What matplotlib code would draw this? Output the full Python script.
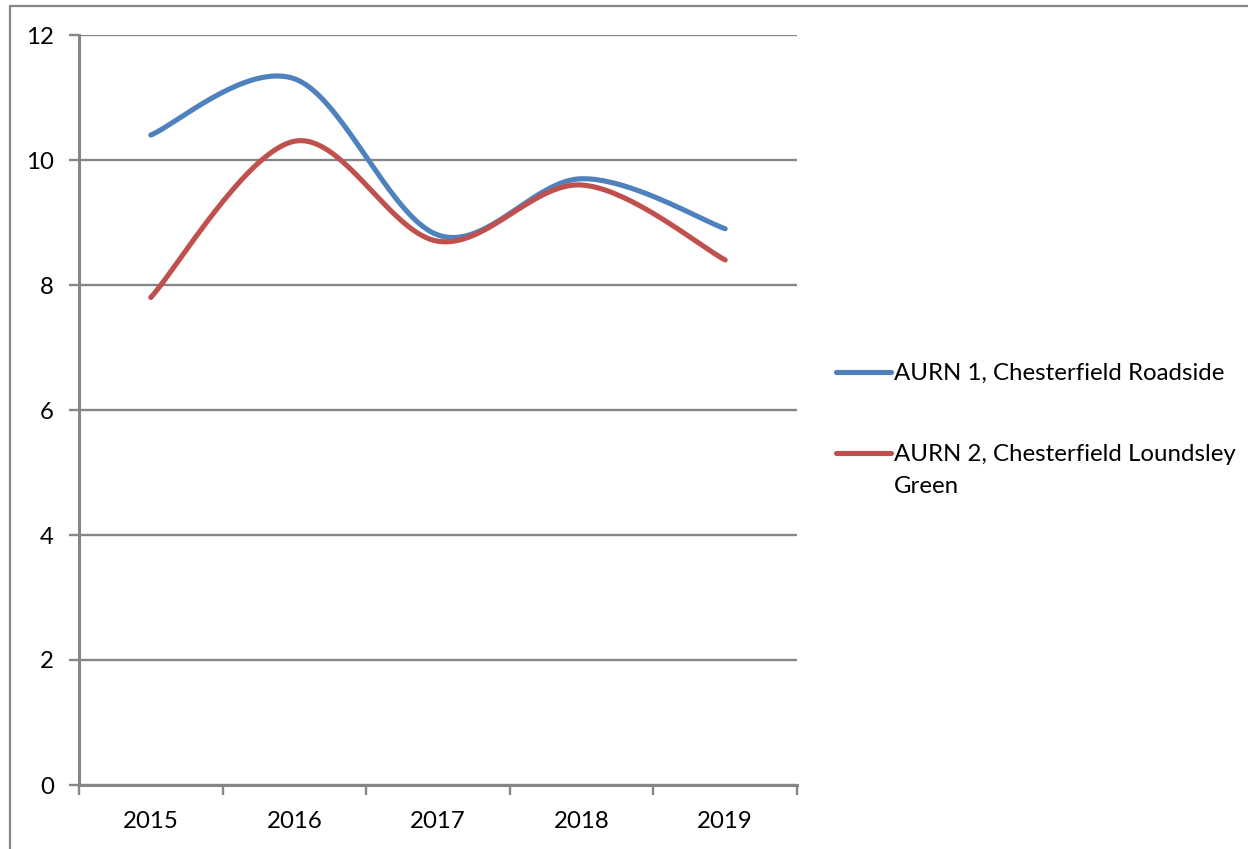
import numpy as np
import matplotlib
matplotlib.use("Agg")
import matplotlib.pyplot as plt
from matplotlib.lines import Line2D
from matplotlib.patches import Rectangle

years = ["2015", "2016", "2017", "2018", "2019"]
roadside = [10.4, 11.3, 8.8, 9.7, 8.9]
loundsley = [7.8, 10.3, 8.7, 9.6, 8.4]
series_names = ["AURN 1, Chesterfield Roadside", "AURN 2, Chesterfield Loundsley\nGreen"]
series_colors = ["#4F81BD", "#C0504D"]
y_ticks = [0, 2, 4, 6, 8, 10, 12]

W, H = 1248, 849
plt.rcParams["font.family"] = ["Lato", "DejaVu Sans"]
FS = 17.3
GRAY = "#868686"


def smooth(xs, ys, n=40):
    """Cardinal (Catmull-Rom style) Bezier smoothing through the points."""
    p = np.column_stack([xs, ys]).astype(float)
    ext = np.vstack([p[0], p, p[-1]])
    out = []
    t = np.linspace(0, 1, n)[:, None]
    for i in range(len(p) - 1):
        p0, p1, p2, p3 = ext[i], ext[i + 1], ext[i + 2], ext[i + 3]
        c1 = p1 + (p2 - p0) / 6.0
        c2 = p2 - (p3 - p1) / 6.0
        seg = ((1 - t) ** 3) * p1 + 3 * ((1 - t) ** 2) * t * c1 + 3 * (1 - t) * t ** 2 * c2 + t ** 3 * p2
        out.append(seg if i == 0 else seg[1:])
    out = np.vstack(out)
    return out[:, 0], out[:, 1]


fig = plt.figure(figsize=(W / 100, H / 100), dpi=100)
ax = fig.add_axes([79 / W, 1 - 785 / H, (797 - 79) / W, (785 - 35) / H])

x = np.arange(len(years))
for vals, color in zip([roadside, loundsley], series_colors):
    sx, sy = smooth(x, vals)
    ax.plot(sx, sy, color=color, lw=3.7, solid_capstyle="round", zorder=3)

ax.set_xlim(-0.5, len(years) - 0.5)
ax.set_ylim(0, 12)
ax.set_yticks(y_ticks)
ax.set_yticklabels([str(v) for v in y_ticks], fontsize=FS)
ax.yaxis.grid(True, color=GRAY, lw=1.7)
ax.set_axisbelow(True)

# category boundaries carry the tick marks, labels sit at the category centres
ax.set_xticks(np.arange(len(years) + 1) - 0.5)
ax.set_xticklabels([])
ax.set_xticks(x, minor=True)
ax.set_xticklabels(years, minor=True, fontsize=FS)
ax.tick_params(axis="x", which="major", length=7, width=1.7, color=GRAY, direction="out")
ax.tick_params(axis="x", which="minor", length=0, pad=19)
ax.tick_params(axis="y", length=7, width=1.7, color=GRAY, pad=11)

for side in ["top", "right"]:
    ax.spines[side].set_visible(False)
for side in ["left", "bottom"]:
    ax.spines[side].set_color(GRAY)
    ax.spines[side].set_linewidth(2.2)

# legend drawn in figure coordinates, one text row per line of each entry
legend_y = [372, 453]
row_gap = 32
for name, color, yy in zip(series_names, series_colors, legend_y):
    fig.add_artist(Line2D([836 / W, 891 / W], [1 - yy / H] * 2, color=color, lw=3.7,
                          solid_capstyle="round"))
    for j, row in enumerate(name.split("\n")):
        fig.text(894 / W, 1 - (yy + 8 + j * row_gap) / H, row, fontsize=FS,
                 va="baseline", ha="left")

# chart frame
fig.add_artist(Rectangle((9.5 / W, -0.01), 1.02, 1 - 6 / H + 0.01, transform=fig.transFigure,
                         fill=False, edgecolor=GRAY, lw=1.6))

fig.savefig("out.png", dpi=100, facecolor="white")
